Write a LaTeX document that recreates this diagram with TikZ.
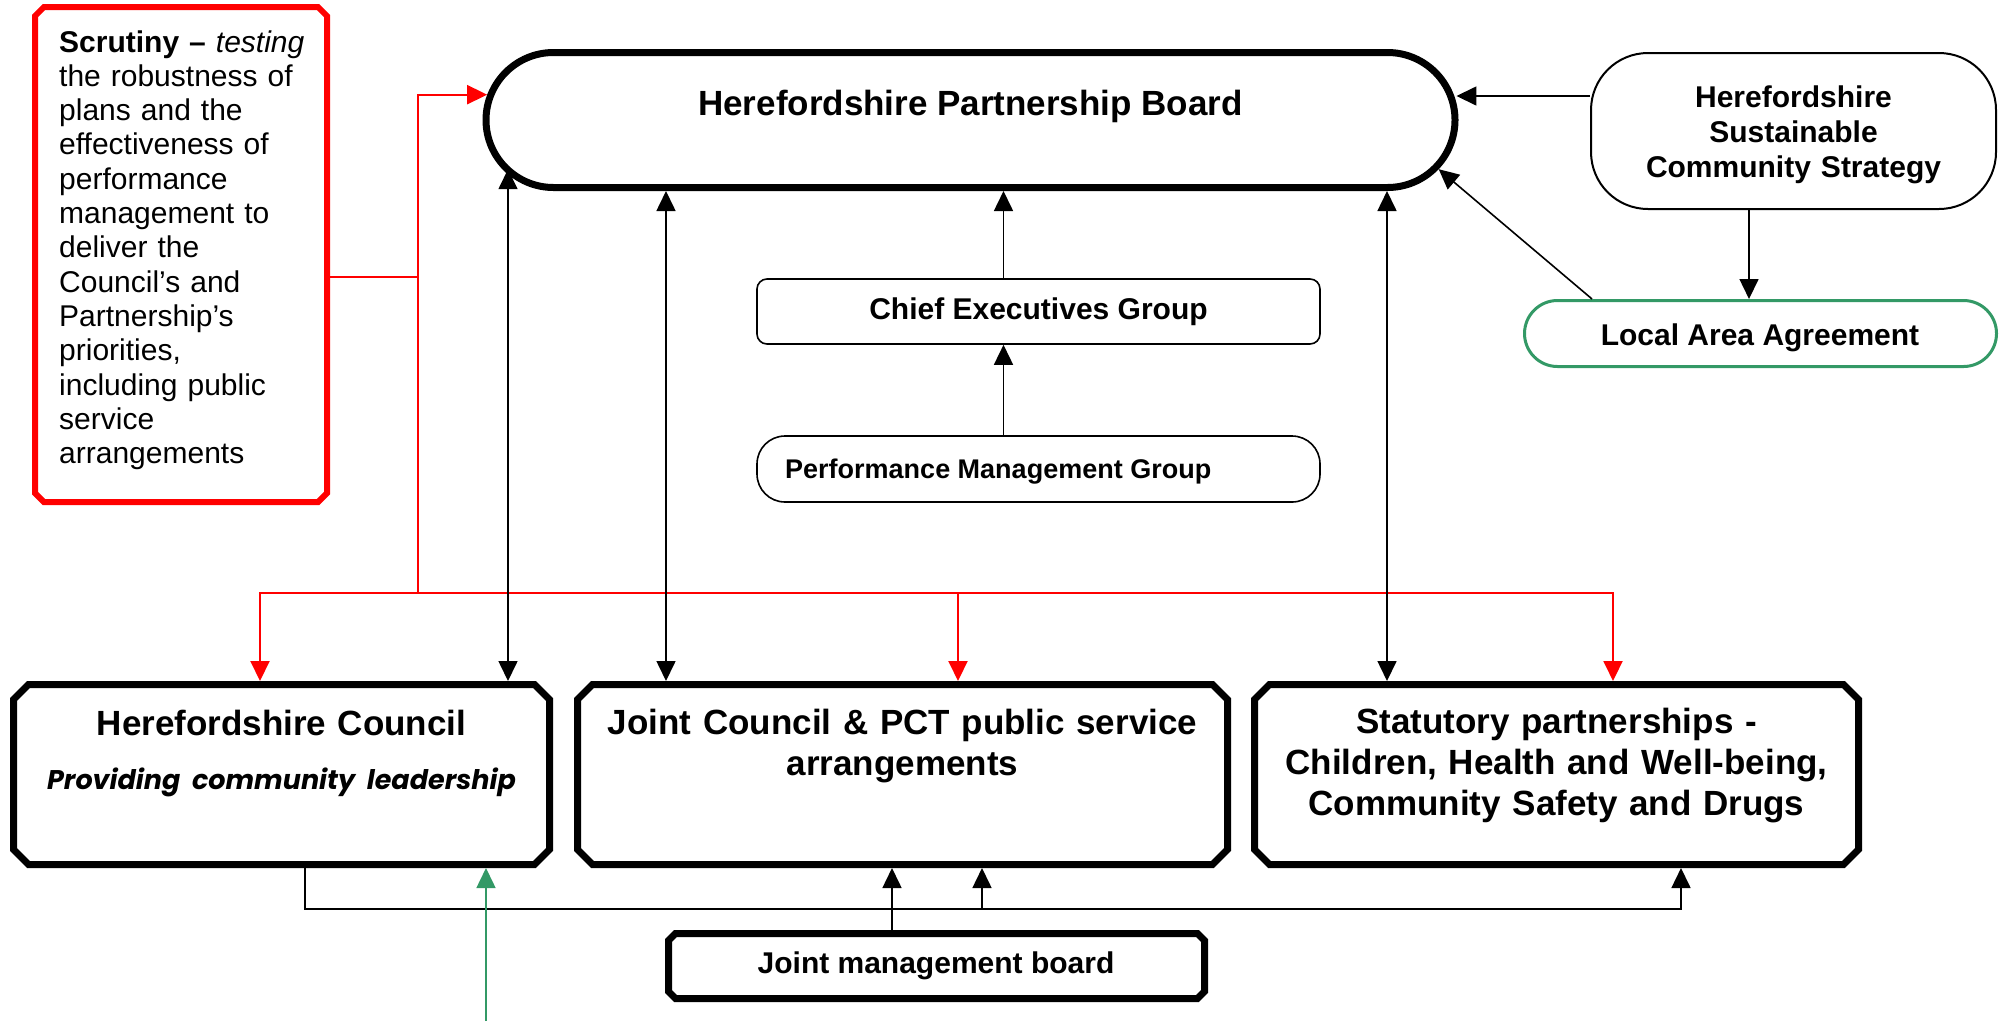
\documentclass[tikz,border=0pt]{standalone}
\usepackage{fontspec}
\setmainfont{Liberation Sans}
\newfontfamily\gothic{Poppins}
\usetikzlibrary{arrows.meta,shapes.misc}
\definecolor{sgreen}{RGB}{51,153,102}
% octagonal (chamfered) outline drawn inside a named invisible node:
% #1 node, #2 chamfer + half line width, #3 half line width, #4 style
\newcommand\octbox[4]{\draw[#4] ([xshift=#2pt,yshift=#3pt]#1.south west) -- ([xshift=-#2pt,yshift=#3pt]#1.south east) -- ([xshift=-#3pt,yshift=#2pt]#1.south east) -- ([xshift=-#3pt,yshift=-#2pt]#1.north east) -- ([xshift=-#2pt,yshift=-#3pt]#1.north east) -- ([xshift=#2pt,yshift=-#3pt]#1.north west) -- ([xshift=#3pt,yshift=-#2pt]#1.north west) -- ([xshift=#3pt,yshift=#2pt]#1.south west) -- cycle;}
\begin{document}
\begin{tikzpicture}[x=1pt,y=-1pt,
  every node/.style={inner sep=0pt},
  octframe/.style={outer sep=0pt},
  thickline/.style={draw=black,line width=7pt},
  lbl/.style={font=\bfseries\fontsize{30}{35}\selectfont},
  lblbig/.style={font=\bfseries\fontsize{35}{41}\selectfont},
  conn/.style={line width=1.6pt,draw=black},
  redline/.style={line width=2pt,draw=red},
  gline/.style={line width=1.6pt,draw=sgreen},
  arr/.style={-{Triangle[length=20pt,width=19pt]}},
  darr/.style={{Triangle[length=20pt,width=19pt]}-{Triangle[length=20pt,width=19pt]}},
]
\useasboundingbox (0,0) rectangle (2009,1021);

% ---------- boxes ----------
\node[octframe,minimum width=298pt,minimum height=501pt] (scr) at (181,254.5) {};
\octbox{scr}{12}{3}{draw=red,line width=6pt}
\node[anchor=base west,text width=268pt,align=left,font=\fontsize{30}{34.3}\selectfont] (scrt) at (59,52)
  {\textbf{Scrutiny –} \textit{testing}\\the robustness of\\plans and the\\effectiveness of\\performance\\management to\\deliver the\\Council’s and\\Partnership’s\\priorities,\\including public\\service\\arrangements};

\node[draw,line width=7pt,rounded rectangle,minimum width=969pt,minimum height=135pt] (hpb) at (970.5,120) {};
\node[lblbig,anchor=base] (hpbt) at (970.5,115) {Herefordshire Partnership Board};

\node[draw,line width=2pt,rounded corners=57pt,minimum width=405pt,minimum height=156pt] (hscs) at (1793.5,131) {};
\node[lbl,anchor=base,text width=400pt,align=center] (hscst) at (1793.5,107) {Herefordshire\\Sustainable\\Community Strategy};

\node[draw=sgreen,line width=3pt,rounded rectangle,minimum width=472pt,minimum height=66pt] (laa) at (1760.5,333.5) {};
\node[lbl,anchor=base] (laat) at (1760,345) {Local Area Agreement};

\node[draw,line width=1.6pt,rounded corners=10pt,minimum width=563pt,minimum height=65pt] (ceg) at (1038.5,311.5) {};
\node[lbl,anchor=base] (cegt) at (1038.5,319) {Chief Executives Group};

\node[draw,line width=1.6pt,rounded corners=28pt,minimum width=563pt,minimum height=66pt] (pmg) at (1038.5,469) {};
\node[font=\bfseries\fontsize{27}{31}\selectfont,anchor=base west] (pmgt) at (785,478) {Performance Management Group};

\node[octframe,minimum width=543pt,minimum height=187pt] (hc) at (281.5,774.5) {};
\octbox{hc}{18.5}{3.5}{thickline}
\node[lblbig,anchor=base,text width=530pt,align=center] (hct) at (281.5,735)
  {Herefordshire Council\\[13pt]{\gothic\itshape\fontseries{b}\selectfont\fontsize{27}{33}\selectfont Providing community leadership}};

\node[octframe,minimum width=657pt,minimum height=187pt] (jc) at (902.5,774.5) {};
\octbox{jc}{18.5}{3.5}{thickline}
\node[lblbig,anchor=base,text width=640pt,align=center] (jct) at (902.5,734)
  {Joint Council \& PCT public service\\arrangements};

\node[octframe,minimum width=611pt,minimum height=187pt] (sp) at (1556.5,774.5) {};
\octbox{sp}{18.5}{3.5}{thickline}
\node[lblbig,anchor=base,text width=600pt,align=center] (spt) at (1556.5,733)
  {Statutory partnerships -\\Children, Health and Well-being,\\Community Safety and Drugs};

\node[octframe,minimum width=543pt,minimum height=72pt] (jmb) at (936.5,966) {};
\octbox{jmb}{10.5}{3.5}{thickline}
\node[lbl,anchor=base] (jmbt) at (936,973) {Joint management board};

% ---------- red scrutiny connectors ----------
\coordinate (rj) at (418,277);
\coordinate (rb) at (418,593);
\coordinate (rm) at (958,593);
\draw[redline] (scr.east |- rj) -- (rj) -- (rb);
\draw[redline,arr] (rj) |- (hpb.177.3);
\draw[redline,arr] (rb) -| ([xshift=-21.5pt]hc.north);
\draw[redline,arr] (rb) -| ([xshift=56.5pt]sp.north);
\draw[redline,arr] (rm) -- (rm |- jc.north);

% ---------- black connectors ----------
\coordinate (a1) at ([xshift=226.5pt]hc.north);
\draw[conn,darr] (a1) -- (a1 |- hpb.186.5);
\coordinate (a2) at ([xshift=-236.5pt]jc.north);
\draw[conn,darr] (a2) -- (a2 |- hpb.south);
\coordinate (a3) at ([xshift=-169.5pt]sp.north);
\draw[conn,darr] (a3) -- (a3 |- hpb.south);
\coordinate (a4) at ([xshift=-35pt]ceg.north);
\draw[conn,arr] (a4) -- (a4 |- hpb.south);
\coordinate (a5) at ([xshift=-35pt]pmg.north);
\draw[conn,arr] (a5) -- (a5 |- ceg.south);

\coordinate (h1) at ([yshift=35pt]hscs.west);
\draw[conn,arr] (h1) -- (h1 -| hpb.2.8);
\coordinate (h2) at ([xshift=-44.5pt]hscs.south);
\draw[conn,arr] (h2) -- (h2 |- laa.north);
\draw[conn,arr] ([xshift=-168.5pt]laa.north) -- (hpb.354);

\coordinate (bl) at (305,909);
\coordinate (br) at (1681,909);
\coordinate (bm) at (982,909);
\coordinate (bj) at (892,909);
\draw[conn,arr] (hc.south -| bl) -- (bl) -- (br) -- (br |- sp.south);
\draw[conn,arr] (bm) -- (bm |- jc.south);
\draw[conn,arr] (jmb.north -| bj) -- (bj |- jc.south);

% ---------- green ----------
\coordinate (gf) at (486,1021);
\draw[gline,arr] (gf) -- (gf |- hc.south);
\end{tikzpicture}
\end{document}
